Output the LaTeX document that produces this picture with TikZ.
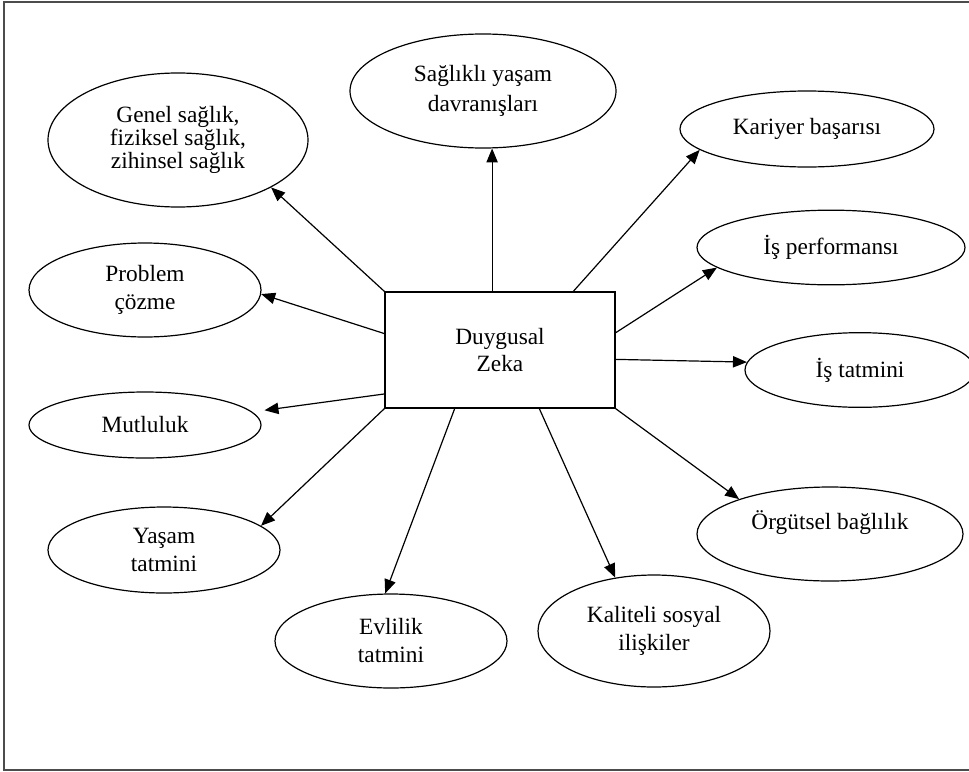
\documentclass[tikz,border=0pt]{standalone}
\usepackage{fontspec}
\setmainfont{Liberation Serif}
\usetikzlibrary{arrows.meta,calc,shapes.geometric}

\tikzset{
  outcome/.style={draw, ellipse, line width=0.9pt, inner sep=0pt, align=center,
    font=\fontsize{17.5pt}{21pt}\selectfont},
  core/.style={draw, rectangle, line width=0.9pt, inner sep=0pt, align=center,
    minimum width=172.5pt, minimum height=87pt,
    font=\fontsize{17.5pt}{20.5pt}\selectfont},
  arr/.style={-{Triangle[length=10.5pt,width=8.5pt]}, line width=0.9pt},
  frame/.style={draw=black!70, line width=1.1pt}
}

\begin{document}
\begin{tikzpicture}[x=0.75pt, y=-0.75pt]
  \useasboundingbox (0,0) rectangle (969,771);
  \clip (0,0) rectangle (969,771);
  \draw[frame] (4,2) rectangle (985,770);

  % central concept
  \node[core] (box) at (500,350) {Duygusal\\Zeka};

  % outcomes around it
  \node[outcome, minimum width=199.5pt, minimum height=85.5pt,
        font=\fontsize{17.5pt}{23pt}\selectfont] (sag) at (483,91)
        {Sağlıklı yaşam\\davranışları};
  \node[outcome, minimum width=195pt, minimum height=100.5pt,
        font=\fontsize{17.5pt}{17pt}\selectfont] (gen) at (178,140)
        {Genel sağlık,\\fiziksel sağlık,\\zihinsel sağlık};
  \node[outcome, minimum width=174pt, minimum height=70.5pt] (prob) at (145,290)
        {Problem\\çözme};
  \node[outcome, minimum width=174pt, minimum height=49.5pt] (mut) at (145,425)
        {Mutluluk};
  \node[outcome, minimum width=174pt, minimum height=64.5pt] (yas) at (164,550)
        {Yaşam\\tatmini};
  \node[outcome, minimum width=174pt, minimum height=70.5pt] (evl) at (391,641)
        {Evlilik\\tatmini};
  \node[outcome, minimum width=174pt, minimum height=84pt] (kal) at (654,631)
        {Kaliteli sosyal\\ilişkiler};
  \node[outcome, minimum width=199.5pt, minimum height=70.5pt] (org) at (830,534)
        {Örgütsel bağlılık\\\mbox{}};
  \node[outcome, minimum width=172.5pt, minimum height=56pt] (ist) at (860,370)
        {İş tatmini};
  \node[outcome, minimum width=201pt, minimum height=56pt] (isp) at (831,247.5)
        {İş performansı};
  \node[outcome, minimum width=190.5pt, minimum height=57pt] (kar) at (807,129)
        {Kariyer başarısı};

  % connectors
  \draw[arr] (sag.-81 |- box.north) -- (sag.-81);
  \draw[arr] (box.north west) -- (gen.-27);
  \draw[arr] ($(box.north west)!0.36!(box.south west)$) -- (prob.-2);
  \draw[arr] ($(box.north west)!0.875!(box.south west)$) -- ([xshift=11pt]mut.8);
  \draw[arr] (box.south west) -- (yas.14);
  \draw[arr] ($(box.south west)!0.304!(box.south east)$) -- (evl.97);
  \draw[arr] ($(box.south west)!0.67!(box.south east)$) -- (kal.126);
  \draw[arr] (box.south east) -- (org.159);
  \draw[arr] ($(box.north east)!0.58!(box.south east)$) -- (ist.176);
  \draw[arr] ($(box.north east)!0.353!(box.south east)$) -- (isp.190);
  \draw[arr] ($(box.north west)!0.817!(box.north east)$) -- (kar.191);
\end{tikzpicture}
\end{document}
